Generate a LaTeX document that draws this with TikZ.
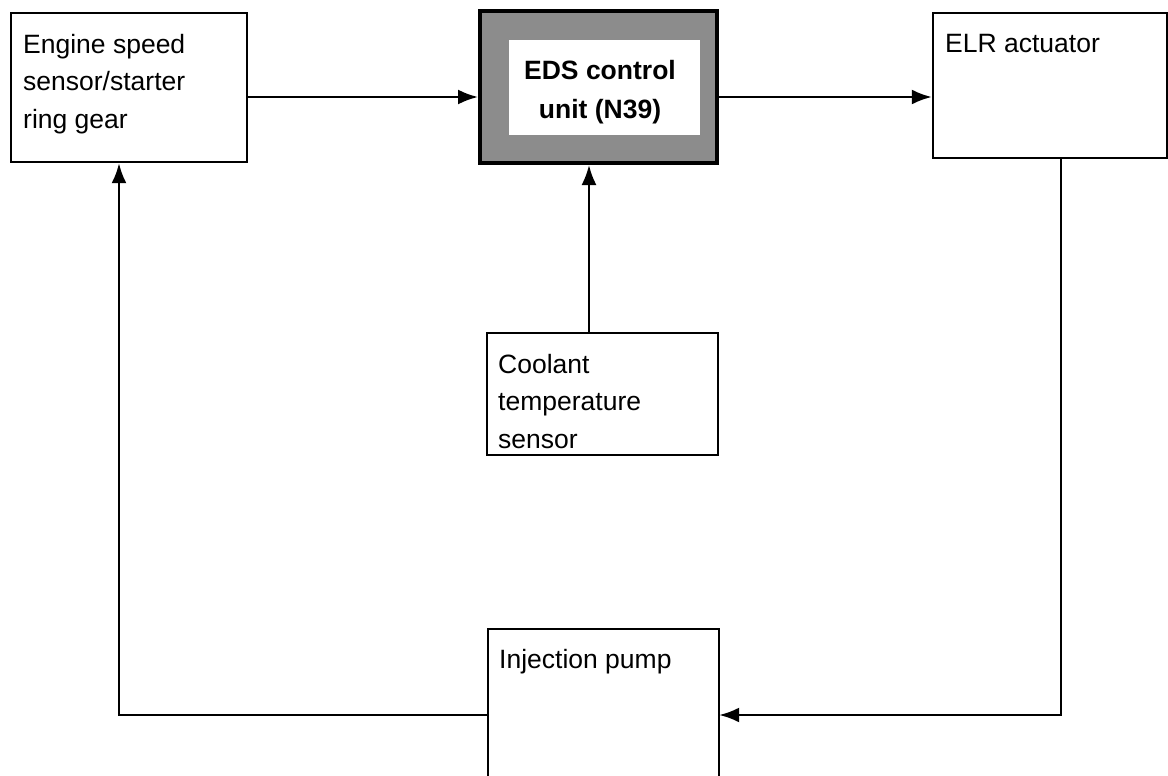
\documentclass[tikz,border=0pt]{standalone}
\usepackage{fontspec}
\setmainfont{Liberation Sans}
\usetikzlibrary{arrows.meta}
\begin{document}
\begin{tikzpicture}[x=1pt,y=1pt,
  box/.style={draw=black,line width=2.4pt,rectangle,inner sep=0pt},
  lbl/.style={anchor=north west,align=left,inner sep=0pt,font=\fontsize{26.5}{37.5}\selectfont},
  arr/.style={line width=2.4pt,-{Latex[length=20pt,width=15pt]}}]
\useasboundingbox (0,0) rectangle (1168,-776);
% boxes
\node[box,minimum width=236pt,minimum height=149pt] (eng) at (129,-87.5) {};
\node[box,line width=4pt,fill=black!45,minimum width=237pt,minimum height=152pt] (eds) at (598.5,-87) {};
\node[fill=white,minimum width=191pt,minimum height=95pt,inner sep=0pt] (edsin) at (604.5,-87.5) {};
\node[box,minimum width=234pt,minimum height=145pt] (elr) at (1050,-85.5) {};
\node[box,minimum width=231pt,minimum height=122pt] (cool) at (602.5,-394) {};
\coordinate (pnw) at (488,-629);
\coordinate (pne) at (719,-629);
\coordinate (psw) at (488,-780);
\coordinate (pse) at (719,-780);
\draw[line width=2.4pt] (psw) -- (pnw) -- (pne) -- (pse);
\node[inner sep=0pt,minimum width=231pt,minimum height=147pt] (pump) at (603.5,-702.5) {};
% texts
\node[lbl] (tEng) at (23,-34) {Engine speed\\sensor/starter\\ring gear};
\node[lbl] (tElr) at (945,-34) {ELR actuator};
\node[lbl] (tCool) at (498,-354) {Coolant\\temperature\\sensor};
\node[lbl] (tPump) at (499,-649) {Injection pump};
\node[align=center,inner sep=0pt,font=\fontsize{26.5}{39}\selectfont\bfseries] (tEds) at (600,-92) {EDS control\\unit (N39)};
% connectors
\coordinate (yA) at (0,-97);
\coordinate (xC) at (589,0);
\coordinate (xR) at (1061,0);
\coordinate (yB) at (0,-715);
\coordinate (xL) at (119,0);
\draw[arr] (eng.east |- yA) -- (eds.west |- yA);
\draw[arr] (eds.east |- yA) -- (elr.west |- yA);
\draw[arr] (cool.north -| xC) -- (eds.south -| xC);
\draw[arr] (elr.south -| xR) -- (xR |- yB) -- (pump.east |- yB);
\draw[arr] (pump.west |- yB) -- (xL |- yB) -- (eng.south -| xL);
\end{tikzpicture}
\end{document}
